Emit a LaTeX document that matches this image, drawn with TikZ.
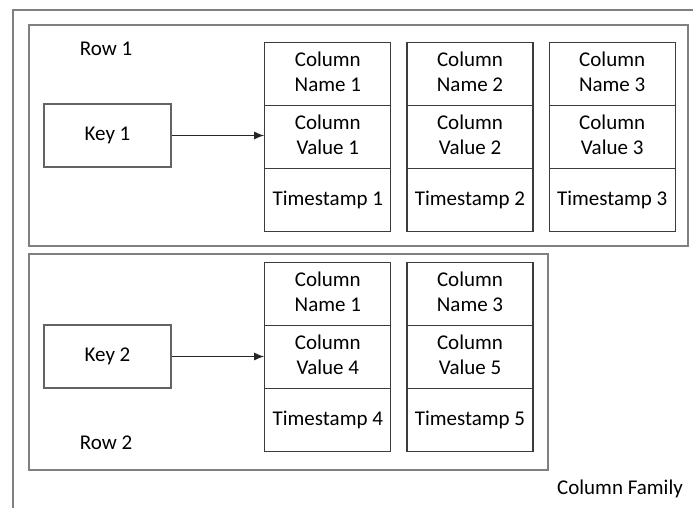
\documentclass[tikz,border=0pt]{standalone}
\usepackage{fontspec}
\setmainfont{Carlito}
\usetikzlibrary{matrix,positioning,arrows.meta}
\definecolor{framegray}{RGB}{128,128,128}
\definecolor{boxgray}{RGB}{60,60,60}
\newcommand{\twoline}[2]{\begin{tabular}{@{}c@{}}#1\\#2\end{tabular}}
\tikzset{
  cell/.style={draw=boxgray, line width=1.2pt, minimum width=126pt, minimum height=63pt,
    inner sep=0pt, font=\fontsize{21}{25}\selectfont},
  keybox/.style={draw=boxgray!80, line width=1.2pt, minimum width=127pt, minimum height=63pt,
    inner sep=0pt, font=\fontsize{21}{25}\selectfont},
  rowbox/.style={draw=framegray, line width=1.4pt},
  lbl/.style={inner sep=0pt, font=\fontsize{21}{25}\selectfont},
  link/.style={draw=black!85, line width=1.3pt, -{Latex[length=10pt,width=8pt]}},
}
\begin{document}
\begin{tikzpicture}[x=1pt,y=-1pt]
  \useasboundingbox (0,0) rectangle (693,508);
  \fill[white] (0,0) rectangle (693,508);
  % column family frame (cut off at right and bottom)
  \begin{scope}
    \clip (0,0) rectangle (693,508);
    \draw[framegray, line width=2pt] (13,10) rectangle (720,540);
  \end{scope}
  \node[lbl] (CF) at (620,489) {Column Family};

  % row 1
  \draw[rowbox] (29,25) rectangle (688,246);
  \node[lbl] (R1) at (106,49) {Row 1};
  \node[keybox] (K1) at (107.5,135.5) {Key 1};
  \matrix (C1) [matrix of nodes, nodes={cell}, column sep=15pt, row sep=-1.2pt,
    inner sep=0pt, anchor=north west] at (264,42) {
    \twoline{Column}{Name 1}  & \twoline{Column}{Name 2}  & \twoline{Column}{Name 3} \\
    \twoline{Column}{Value 1} & \twoline{Column}{Value 2} & \twoline{Column}{Value 3} \\
    Timestamp 1               & Timestamp 2               & Timestamp 3 \\
  };
  \draw[link] (K1.east) -- (K1.east -| C1-2-1.west);

  % row 2
  \draw[rowbox] (29,254) rectangle (548,470);
  \node[lbl] (R2) at (106,443) {Row 2};
  \node[keybox] (K2) at (107.5,356.5) {Key 2};
  \matrix (C2) [matrix of nodes, nodes={cell}, column sep=15pt, row sep=-1.2pt,
    inner sep=0pt, anchor=north west] at (264,262) {
    \twoline{Column}{Name 1}  & \twoline{Column}{Name 3} \\
    \twoline{Column}{Value 4} & \twoline{Column}{Value 5} \\
    Timestamp 4               & Timestamp 5 \\
  };
  \draw[link] (K2.east) -- (K2.east -| C2-2-1.west);
\end{tikzpicture}
\end{document}
